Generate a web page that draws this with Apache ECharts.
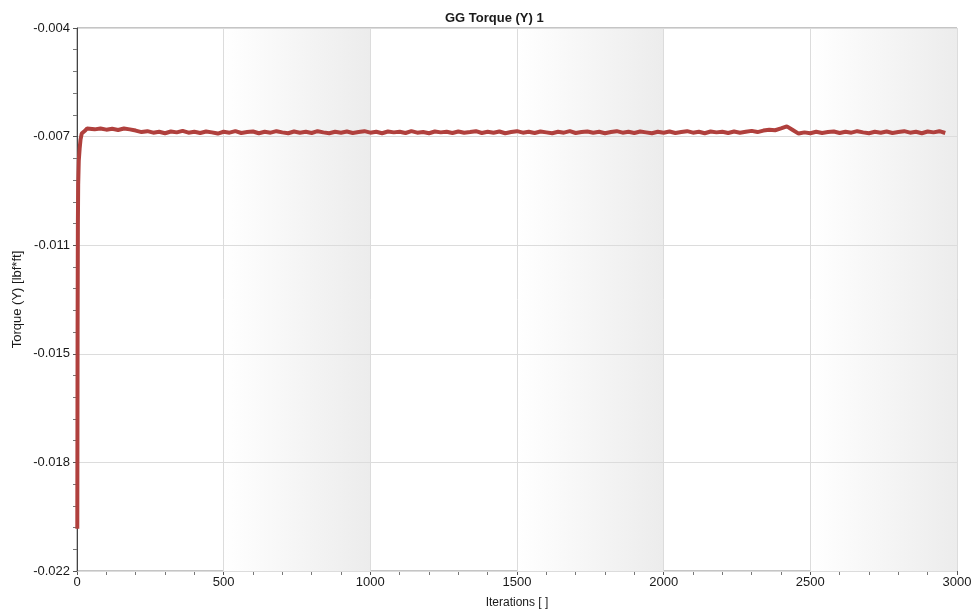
<!DOCTYPE html>
<html lang="en">
<head>
    <meta charset="UTF-8">
    <title>GG Torque (Y) 1</title>
    <script src="https://cdn.jsdelivr.net/npm/echarts@6/dist/echarts.min.js"></script>
    <style>
        html, body { margin: 0; padding: 0; background: #fff; }
        #chart { width: 979px; height: 615px; }
    </style>
</head>
<body>
    <div id="chart"></div>
    <script type="text/javascript">
        // tick labels as printed on the original y axis
        var yTickLabels = ['-0.022', '-0.018', '-0.015', '-0.011', '-0.007', '-0.004'];
        var yMin = -0.022, yMax = -0.004, yStep = 0.0036;

        // start-up transient (iteration, torque)
        var startIterations = [1, 2, 3, 4, 6, 9, 12, 16, 22, 28, 34];
        var startTorque = [-0.0206, -0.0140, -0.0105, -0.0092, -0.0084, -0.0080, -0.0077, -0.0075, -0.00745, -0.0074, -0.00733];

        // settled part, read every 20 iterations from 40 to 2960
        var sampleStart = 40, sampleStep = 20;
        var settledTorque = [
            -0.00731, -0.00736, -0.00733, -0.00737, -0.00734, -0.00738, -0.00733, -0.00736, -0.00740, -0.00745,
            -0.00742, -0.00747, -0.00744, -0.00749, -0.00743, -0.00746, -0.00741, -0.00747, -0.00744, -0.00748,
            -0.00743, -0.00746, -0.00750, -0.00744, -0.00747, -0.00742, -0.00748, -0.00745, -0.00743, -0.00749,
            -0.00744, -0.00747, -0.00742, -0.00746, -0.00749, -0.00743, -0.00747, -0.00744, -0.00748, -0.00742,
            -0.00746, -0.00749, -0.00744, -0.00747, -0.00743, -0.00748, -0.00745, -0.00742, -0.00747, -0.00744,
            -0.00749, -0.00743, -0.00746, -0.00744, -0.00748, -0.00742, -0.00747, -0.00745, -0.00749, -0.00743,
            -0.00746, -0.00744, -0.00748, -0.00743, -0.00747, -0.00745, -0.00742, -0.00748, -0.00744, -0.00747,
            -0.00743, -0.00749, -0.00745, -0.00742, -0.00747, -0.00744, -0.00748, -0.00743, -0.00746, -0.00749,
            -0.00744, -0.00747, -0.00742, -0.00748, -0.00745, -0.00743, -0.00747, -0.00744, -0.00749, -0.00745,
            -0.00742, -0.00747, -0.00744, -0.00748, -0.00743, -0.00746, -0.00749, -0.00744, -0.00747, -0.00743,
            -0.00748, -0.00745, -0.00742, -0.00747, -0.00744, -0.00749, -0.00743, -0.00746, -0.00744, -0.00748,
            -0.00743, -0.00747, -0.00744, -0.00741, -0.00745, -0.00740, -0.00737, -0.00739, -0.00733, -0.00726,
            -0.00738, -0.00750, -0.00746, -0.00749, -0.00744, -0.00748, -0.00745, -0.00743, -0.00748, -0.00744,
            -0.00747, -0.00742, -0.00746, -0.00749, -0.00744, -0.00747, -0.00743, -0.00748, -0.00745, -0.00742,
            -0.00747, -0.00744, -0.00749, -0.00743, -0.00746, -0.00742, -0.00748
        ];

        var seriesData = [];
        startIterations.forEach(function (it, i) {
            seriesData.push([it, startTorque[i]]);
        });
        settledTorque.forEach(function (v, i) {
            seriesData.push([sampleStart + i * sampleStep, v]);
        });

        var labelFont = { fontFamily: 'Liberation Sans', fontSize: 13, color: '#1a1a1a' };

        var myChart = echarts.init(document.getElementById('chart'));
        var option = {
            animation: false,
            backgroundColor: '#fff',
            title: {
                text: 'GG Torque (Y) 1',
                left: 440,
                top: 7,
                textStyle: { fontFamily: 'Liberation Sans', fontSize: 13, fontWeight: 'bold', color: '#1a1a1a' }
            },
            grid: {
                left: 77, right: 22, top: 28, bottom: 44,
                show: true,
                borderColor: '#8a8a8a',
                borderWidth: 1,
                backgroundColor: '#fff'
            },
            xAxis: {
                type: 'value',
                z: 0,
                min: 0, max: 3000, interval: 500,
                name: 'Iterations [ ]',
                nameLocation: 'middle',
                nameGap: 26,
                nameMoveOverlap: false,
                nameTextStyle: { fontFamily: 'Liberation Sans', fontSize: 12, color: '#1a1a1a' },
                axisLine: { lineStyle: { color: '#555', width: 1 } },
                axisTick: { show: true, length: 4, lineStyle: { color: '#555' } },
                minorTick: { show: true, splitNumber: 5, length: 4, lineStyle: { color: '#777' } },
                axisLabel: Object.assign({
                    margin: 5,
                    formatter: function (v) { return String(v); }
                }, labelFont),
                splitLine: { show: true, lineStyle: { color: '#dcdcdc', width: 1 } },
                splitArea: {
                    show: true,
                    areaStyle: {
                        color: [
                            'rgba(255,255,255,0)',
                            new echarts.graphic.LinearGradient(0, 0, 1, 0, [
                                { offset: 0, color: '#ffffff' },
                                { offset: 1, color: '#ececec' }
                            ])
                        ]
                    }
                }
            },
            yAxis: {
                type: 'value',
                z: 1,
                min: yMin, max: yMax, interval: yStep,
                name: 'Torque (Y) [lbf*ft]',
                nameLocation: 'middle',
                nameGap: 53,
                nameMoveOverlap: false,
                nameTextStyle: { fontFamily: 'Liberation Sans', fontSize: 13, color: '#1a1a1a' },
                axisLine: { show: true, lineStyle: { color: '#444', width: 1 } },
                axisTick: { show: true, length: 4, lineStyle: { color: '#555' } },
                minorTick: { show: true, splitNumber: 5, length: 4, lineStyle: { color: '#777' } },
                axisLabel: Object.assign({
                    margin: 7,
                    formatter: function (v) {
                        var idx = Math.round((v - yMin) / yStep);
                        return yTickLabels[idx] !== undefined ? yTickLabels[idx] : '';
                    }
                }, labelFont),
                splitLine: { show: true, lineStyle: { color: '#dcdcdc', width: 1 } }
            },
            series: [{
                name: 'GG Torque (Y) 1',
                type: 'line',
                data: seriesData,
                symbol: 'none',
                smooth: false,
                lineStyle: { color: '#b0403d', width: 4 },
                itemStyle: { color: '#b0403d' },
                z: 3
            }]
        };
        myChart.setOption(option);
    </script>
</body>
</html>
